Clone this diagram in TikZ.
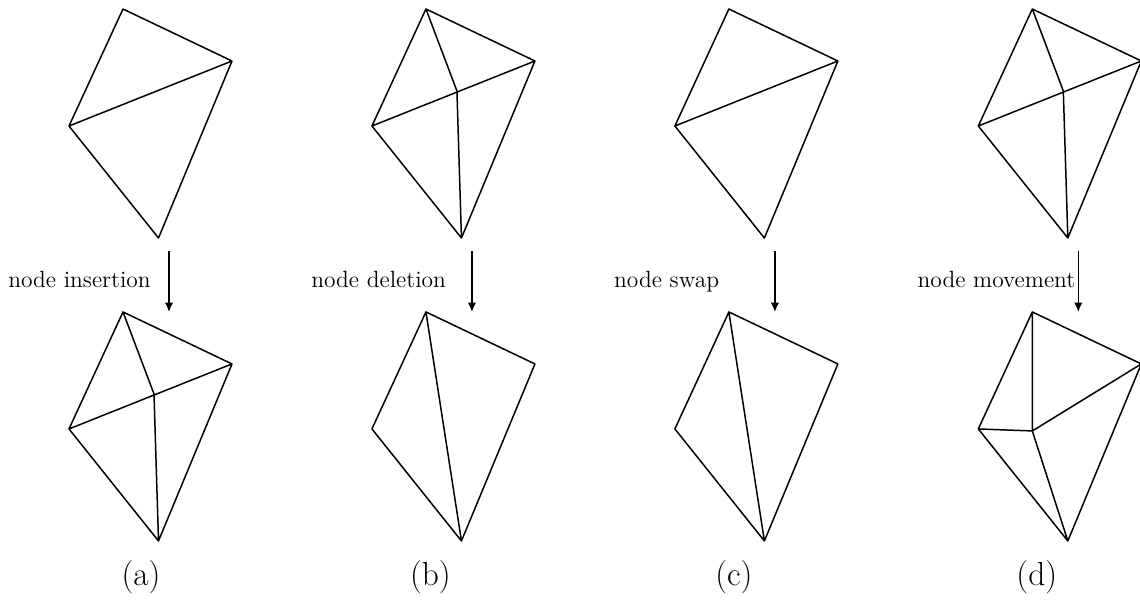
\documentclass[tikz,border=0pt]{standalone}
\usepackage{amsmath}
\usetikzlibrary{positioning,arrows.meta}

\tikzset{
  mesh/.style={line width=0.85pt, line join=round},
  move/.style={line width=0.85pt, -{Latex[length=5.4pt,width=4.8pt]}},
  opname/.style={anchor=base west, inner sep=0pt, font=\fontsize{13.35}{15}\selectfont},
  caption/.style={inner sep=0pt, anchor=base, font=\fontsize{19}{22}\selectfont}
}

\newcommand{\corners}{
  \coordinate (t) at (123,9);
  \coordinate (r) at (232,61);
  \coordinate (l) at (69,126);
  \coordinate (b) at (158.5,238);
}

\begin{document}
\begin{tikzpicture}[x=0.02cm, y=-0.02cm]
  \useasboundingbox (0,0) rectangle (1140,599);

  % (a)
  \begin{scope}
    \corners
    \draw[mesh] (t) -- (r) -- (b) -- (l) -- cycle (l) -- (r);
    \coordinate (s) at (169,251);
    \coordinate (e) at (169,312);
    \draw[move] (s) -- (e);
    \node[opname] (lab) at (8,287) {node insertion};
    \begin{scope}[yshift=-6.06cm]
      \corners
      \coordinate (n) at (154,91);
      \draw[mesh] (t) -- (r) -- (b) -- (l) -- cycle (l) -- (r) (t) -- (n) -- (b);
    \end{scope}
    \node[caption] (cap) at (141,585) {(a)};
  \end{scope}

  % (b)
  \begin{scope}[xshift=6.06cm]
    \corners
    \coordinate (n) at (154,91);
    \draw[mesh] (t) -- (r) -- (b) -- (l) -- cycle (l) -- (r) (t) -- (n) -- (b);
    \coordinate (s) at (169,251);
    \coordinate (e) at (169,312);
    \draw[move] (s) -- (e);
    \node[opname] (lab) at (8,287) {node deletion};
    \begin{scope}[yshift=-6.06cm]
      \corners
      \draw[mesh] (t) -- (r) -- (b) -- (l) -- cycle (t) -- (b);
    \end{scope}
    \node[caption] (cap) at (127.5,585) {(b)};
  \end{scope}

  % (c)
  \begin{scope}[xshift=12.12cm]
    \corners
    \draw[mesh] (t) -- (r) -- (b) -- (l) -- cycle (l) -- (r);
    \coordinate (s) at (169,251);
    \coordinate (e) at (169,312);
    \draw[move] (s) -- (e);
    \node[opname] (lab) at (8,287) {node swap};
    \begin{scope}[yshift=-6.06cm]
      \corners
      \draw[mesh] (t) -- (r) -- (b) -- (l) -- cycle (t) -- (b);
    \end{scope}
    \node[caption] (cap) at (128,585) {(c)};
  \end{scope}

  % (d)
  \begin{scope}[xshift=18.19cm]
    \corners
    \coordinate (n) at (154,91);
    \draw[mesh] (t) -- (r) -- (b) -- (l) -- cycle (l) -- (r) (t) -- (n) -- (b);
    \coordinate (s) at (169,251);
    \coordinate (e) at (169,312);
    \draw[move] (s) -- (e);
    \node[opname] (lab) at (8,287) {node movement};
    \begin{scope}[yshift=-6.06cm]
      \corners
      \coordinate (n) at (123,128);
      \draw[mesh] (t) -- (r) -- (b) -- (l) -- cycle (t) -- (n) (l) -- (n) (r) -- (n) (b) -- (n);
    \end{scope}
    \node[caption] (cap) at (127.5,585) {(d)};
  \end{scope}
\end{tikzpicture}
\end{document}
